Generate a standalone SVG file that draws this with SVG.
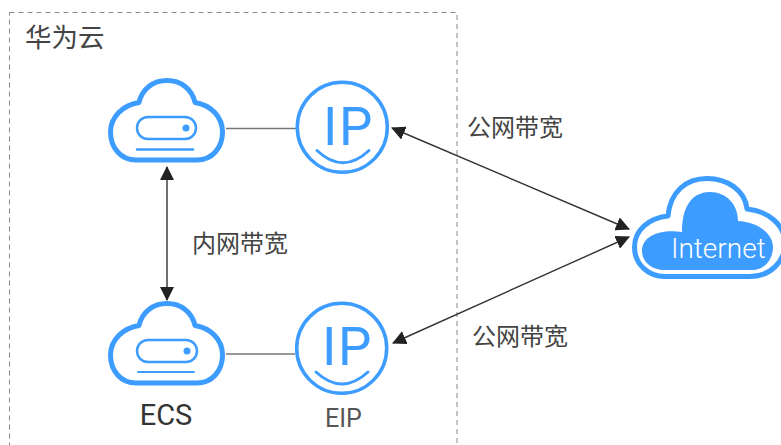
<svg xmlns="http://www.w3.org/2000/svg" width="781" height="445" viewBox="0 0 781 445">
<style>
.blue{fill:none;stroke:#3c9cff;stroke-linecap:round;stroke-linejoin:round}
.cn{font-family:"Noto Sans CJK SC","Noto Sans",sans-serif;font-size:24px;fill:#444}
.ip{font-family:Roboto,"Liberation Sans",sans-serif;font-weight:400;font-size:53px;fill:#3c9cff;letter-spacing:1.5px}
.lat{font-family:Roboto,"Liberation Sans",sans-serif;fill:#333}
.conn{fill:none;stroke:#333;stroke-width:1.4}
.plain{fill:none;stroke:#777;stroke-width:1.4}
</style>
<defs>
<marker id="arr" viewBox="0 0 14 14" refX="13" refY="7" markerWidth="14" markerHeight="14" markerUnits="userSpaceOnUse" orient="auto-start-reverse"><path d="M0 0L14 7L0 14Z" fill="#222"/></marker>
<path id="cloud" d="M136 160H197C212 160 222.500 148 222.500 132C222.500 117 211 105 195 102.500C192 89 181 80.500 167 80.500C153 80.500 142 89 139 102.500C123 105 110.500 117 110.500 132C110.500 148 121 160 136 160Z"/>
</defs>
<rect id="frame" x="9.500" y="12.500" width="447.500" height="445" fill="none" stroke="#888" stroke-width="1" stroke-dasharray="5 4"/>
<text class="cn" x="25" y="47" style="font-size:26.500px">华为云</text>
<g id="connectors">
<path class="plain" d="M226 128.500H297"/>
<path class="plain" d="M226 354H295"/>
<path class="conn" d="M167 167V300" marker-start="url(#arr)" marker-end="url(#arr)"/>
<path class="conn" d="M392 128L629 229" marker-start="url(#arr)" marker-end="url(#arr)"/>
<path class="conn" d="M393 343L629 237" marker-start="url(#arr)" marker-end="url(#arr)"/>
</g>
<g id="ecs-top">
<use href="#cloud" class="blue" stroke-width="5"/>
<rect class="blue" x="137" y="117" width="59" height="22" rx="11" stroke-width="2.500"/>
<circle cx="186" cy="128" r="3.500" fill="#3c9cff"/>
<path class="blue" d="M137 149.500H193" stroke-width="2.500"/>
</g>
<g id="ip-top">
<circle class="blue" cx="342.300" cy="127.300" r="45" stroke-width="3.500"/>
<text class="ip" x="323" y="144.500">IP</text>
<path class="blue" d="M317 150.500Q343 175 369 150.500" stroke-width="3"/>
</g>
<g id="ecs-bottom">
<use href="#cloud" class="blue" stroke-width="5" transform="translate(0 223)"/>
<rect class="blue" x="137" y="340" width="60" height="22" rx="11" stroke-width="2.500"/>
<circle cx="187" cy="351" r="3.500" fill="#3c9cff"/>
<path class="blue" d="M138 372H194" stroke-width="1.800"/>
<text class="lat" x="166" y="425" text-anchor="middle" font-size="29">ECS</text>
</g>
<g id="ip-bottom">
<circle class="blue" cx="341.700" cy="348.300" r="45" stroke-width="3.500"/>
<text class="ip" x="322" y="365">IP</text>
<path class="blue" d="M316 372Q342 396 368 372" stroke-width="3"/>
<text x="343.500" y="427" text-anchor="middle" font-size="25" font-family="Roboto,'Liberation Sans',sans-serif" fill="#555">EIP</text>
</g>
<g id="internet">
<path class="blue" stroke-width="5" d="M665 276.500H750C770 276.500 785 262 785 243C785 225 768 211 747 209C745 190 727 178.500 707 178.500C686 178.500 670 192 668 216C649 218 634.500 230 634.500 247C634.500 264 648 276.500 665 276.500Z"/>
<path fill="#3c9cff" d="M664 270H752C765 270 773 259 773 247C773 233 757 222 738 221C738 204 726 192 710 192C693 192 682 205 682 232C660 229 642 236 642 251C642 262 652 270 664 270Z"/>
<text x="671" y="258" font-family="Roboto,'Liberation Sans',sans-serif" font-weight="300" font-size="28" fill="#fff">Internet</text>
</g>
<text class="cn" x="467" y="136">公网带宽</text>
<text class="cn" x="192" y="252">内网带宽</text>
<text class="cn" x="472" y="345">公网带宽</text>
</svg>
